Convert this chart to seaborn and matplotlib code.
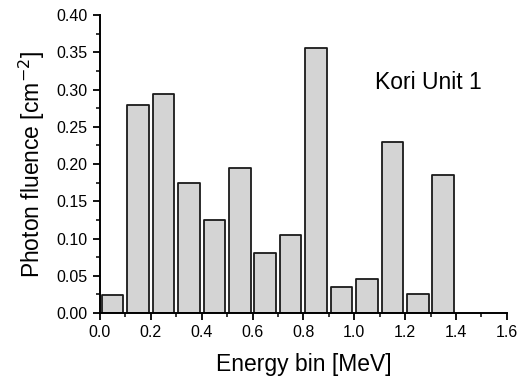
import matplotlib
matplotlib.use("Agg")
import matplotlib.pyplot as plt
import seaborn as sns
import numpy as np
from matplotlib.ticker import MultipleLocator

# energy bins (MeV, bin centres) and photon fluence
bin_centres = [0.05, 0.15, 0.25, 0.35, 0.45, 0.55, 0.65, 0.75, 0.85, 0.95, 1.05, 1.15, 1.25, 1.35]
fluence = [0.024, 0.279, 0.294, 0.174, 0.125, 0.195, 0.080, 0.105, 0.356, 0.035, 0.046, 0.230, 0.026, 0.185]

sns.set_style("ticks")
plt.rcParams['font.family'] = ['Liberation Sans', 'DejaVu Sans']
plt.rcParams['text.color'] = 'black'
plt.rcParams['axes.labelcolor'] = 'black'

fig = plt.figure(figsize=(5.29, 3.78), dpi=100)
ax = fig.add_axes([0.189, 0.172, 0.769, 0.788])

sns.barplot(x=bin_centres, y=fluence, native_scale=True, width=0.85,
            color="#d4d4d4", edgecolor="#1a1a1a", linewidth=1.3,
            saturation=1, ax=ax)
for p in ax.patches:
    p.set_joinstyle("round")

ax.set_xlim(0, 1.6)
ax.set_ylim(0, 0.40)
ax.xaxis.set_major_locator(MultipleLocator(0.2))
ax.xaxis.set_minor_locator(MultipleLocator(0.1))
ax.yaxis.set_major_locator(MultipleLocator(0.05))
ax.yaxis.set_minor_locator(MultipleLocator(0.025))
ax.xaxis.set_major_formatter(plt.FuncFormatter(lambda v, p: "%.1f" % v))
ax.yaxis.set_major_formatter(plt.FuncFormatter(lambda v, p: "%.2f" % v))

for s in ["top", "right"]:
    ax.spines[s].set_visible(False)
for s in ["left", "bottom"]:
    ax.spines[s].set_linewidth(1.4)
    ax.spines[s].set_color("black")

ax.tick_params(which="major", direction="out", length=5, width=1.3, labelsize=11.5, colors="black", pad=4)
ax.tick_params(which="minor", direction="out", length=3, width=1.1, colors="black")

ax.set_xlabel("Energy bin [MeV]", fontsize=16.5, labelpad=9, color="black")
ax.set_ylabel("Photon fluence [cm$^{-2}$]", fontsize=16.5, labelpad=7, color="black")

ax.text(1.08, 0.31, "Kori Unit 1", fontsize=16.5, va="center", ha="left", color="black")

fig.savefig("out.png", dpi=100)
